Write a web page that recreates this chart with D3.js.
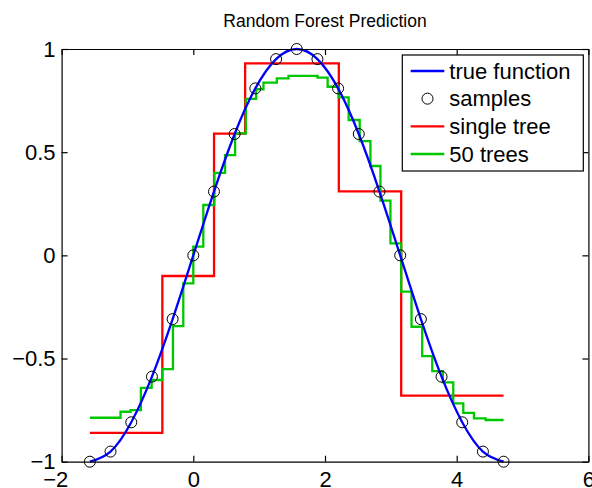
<!DOCTYPE html>
<html>
<head>
<meta charset="utf-8">
<script src="https://cdn.jsdelivr.net/npm/d3@7"></script>
<style>
    body { margin: 0; background: #fff; overflow: hidden; }
    #canvas { width: 592px; height: 488px; }
    text { font-family: "Liberation Sans", Arial, Helvetica, sans-serif; }
</style>
</head>
<body>
<div id="canvas"></div>
<script>
// Samples of the true function
var sampleX = [-1.571, -1.257, -0.942, -0.628, -0.314, 0, 0.314, 0.628, 0.942, 1.257, 1.571,
               1.885, 2.199, 2.513, 2.827, 3.142, 3.456, 3.770, 4.084, 4.398, 4.712];
var sampleY = [-1, -0.951, -0.809, -0.588, -0.309, 0, 0.309, 0.588, 0.809, 0.951, 1,
               0.951, 0.809, 0.588, 0.309, 0, -0.309, -0.588, -0.809, -0.951, -1];

// Single tree: step edges and the level on each step
var singleTreeX = [-1.571, -0.47, 0.315, 0.787, 2.21, 3.157, 4.712];
var singleTreeY = [-0.86, -0.10, 0.59, 0.93, 0.31, -0.68];

// 50 trees: step edges and levels
var forestX = [-1.571, -1.105, -0.953, -0.796, -0.633, -0.472, -0.309, -0.152, 0, 0.152,
               0.320, 0.482, 0.635, 0.798, 0.954, 1.065, 1.269, 1.446, 1.887, 2.040,
               2.207, 2.359, 2.527, 2.690, 2.842, 2.994, 3.157, 3.314, 3.476, 3.629,
               3.790, 3.948, 4.100, 4.262, 4.440, 4.712];
var forestY = [-0.787, -0.758, -0.750, -0.642, -0.604, -0.551, -0.343, -0.136, 0.042, 0.244,
               0.400, 0.486, 0.591, 0.758, 0.805, 0.837, 0.858, 0.870, 0.861, 0.817,
               0.766, 0.656, 0.554, 0.433, 0.265, 0.058, -0.176, -0.346, -0.488, -0.561,
               -0.616, -0.717, -0.763, -0.790, -0.798];

var xTicks = [-2, 0, 2, 4, 6];
var yTicks = [-1, -0.5, 0, 0.5, 1];
var legendLabels = ['true function', 'samples', 'single tree', '50 trees'];

var W = 592, H = 488;
var plotLeft = 61.6, plotRight = 588.4, plotTop = 49, plotBottom = 461.7;
var lw = 2.3;

var svg = d3.select('#canvas').append('svg')
    .attr('width', W)
    .attr('height', H)
    .style('display', 'block');

var x = d3.scaleLinear().domain([-2, 6]).range([plotLeft, plotRight]);
var y = d3.scaleLinear().domain([-1, 1]).range([plotBottom, plotTop]);

// turn edges + levels into points for a step-after curve
var steps = function(xs, ys) {
    var pts = ys.map(function(v, i) { return [xs[i], v]; });
    pts.push([xs[xs.length - 1], ys[ys.length - 1]]);
    return pts;
};

var stepLine = d3.line()
    .x(function(d) { return x(d[0]); })
    .y(function(d) { return y(d[1]); })
    .curve(d3.curveStepAfter);

svg.append('path')
    .attr('d', stepLine(steps(singleTreeX, singleTreeY)))
    .attr('fill', 'none').attr('stroke', '#ff0000').attr('stroke-width', lw);

svg.append('path')
    .attr('d', stepLine(steps(forestX, forestY)))
    .attr('fill', 'none').attr('stroke', '#00c800').attr('stroke-width', lw);

// true function, smooth through the samples
var smooth = d3.line()
    .x(function(d, i) { return x(sampleX[i]); })
    .y(function(d) { return y(d); })
    .curve(d3.curveNatural);

svg.append('path')
    .attr('d', smooth(sampleY))
    .attr('fill', 'none').attr('stroke', '#0000ff').attr('stroke-width', lw);

svg.selectAll('circle.sample').data(sampleY)
    .enter().append('circle')
    .attr('class', 'sample')
    .attr('cx', function(d, i) { return x(sampleX[i]); })
    .attr('cy', function(d) { return y(d); })
    .attr('r', 5.5)
    .attr('fill', 'none').attr('stroke', '#000').attr('stroke-width', 1);

// axes: ticks point inward on all four sides
var fmt = function(d) { return d3.format('')(d); };

var gx = svg.append('g')
    .attr('transform', 'translate(0,' + plotBottom + ')')
    .call(d3.axisBottom(x).tickValues(xTicks).tickFormat(fmt)
        .tickSizeInner(-6).tickSizeOuter(0).tickPadding(10));
gx.selectAll('text').attr('dx', function(d) { return d < 0 ? '-0.29em' : 0; });

var gy = svg.append('g')
    .attr('transform', 'translate(' + plotLeft + ',0)')
    .call(d3.axisLeft(y).tickValues(yTicks).tickFormat(fmt)
        .tickSizeInner(-6).tickSizeOuter(0).tickPadding(6));

svg.append('g')
    .attr('transform', 'translate(0,' + plotTop + ')')
    .call(d3.axisTop(x).tickValues(xTicks).tickFormat('')
        .tickSizeInner(-6).tickSizeOuter(0));
svg.append('g')
    .attr('transform', 'translate(' + plotRight + ',0)')
    .call(d3.axisRight(y).tickValues(yTicks).tickFormat('')
        .tickSizeInner(-6).tickSizeOuter(0));

svg.selectAll('.domain, .tick line').attr('stroke', '#000').attr('stroke-width', 1.2);
svg.selectAll('.tick text')
    .attr('font-size', 22).attr('fill', '#000')
    .attr('font-family', '"Liberation Sans", Arial, sans-serif');

svg.append('text')
    .attr('x', (plotLeft + plotRight) / 2).attr('y', 27)
    .attr('text-anchor', 'middle')
    .attr('font-size', 17.5)
    .text('Random Forest Prediction');

// legend
var legend = svg.append('g');
legend.append('rect')
    .attr('x', 402.3).attr('y', 55).attr('width', 181).attr('height', 116)
    .attr('fill', '#fff').attr('stroke', '#000').attr('stroke-width', 1.2);

var legendColor = ['#0000ff', null, '#ff0000', '#00c800'];
var rowY = d3.scaleLinear().domain([0, 3]).range([71, 154]);

legend.selectAll('g.item').data(legendLabels)
    .enter().append('g')
    .attr('class', 'item')
    .each(function(d, i) {
        var g = d3.select(this);
        var cy = rowY(i);
        if (legendColor[i]) {
            g.append('line')
                .attr('x1', 410.7).attr('x2', 444.3).attr('y1', cy).attr('y2', cy)
                .attr('stroke', legendColor[i]).attr('stroke-width', lw);
        } else {
            g.append('circle')
                .attr('cx', 427.5).attr('cy', cy).attr('r', 5.5)
                .attr('fill', 'none').attr('stroke', '#000');
        }
        g.append('text')
            .attr('x', 449.3).attr('y', cy).attr('dy', '0.35em')
            .attr('font-size', 22)
            .text(d);
    });
</script>
</body>
</html>
